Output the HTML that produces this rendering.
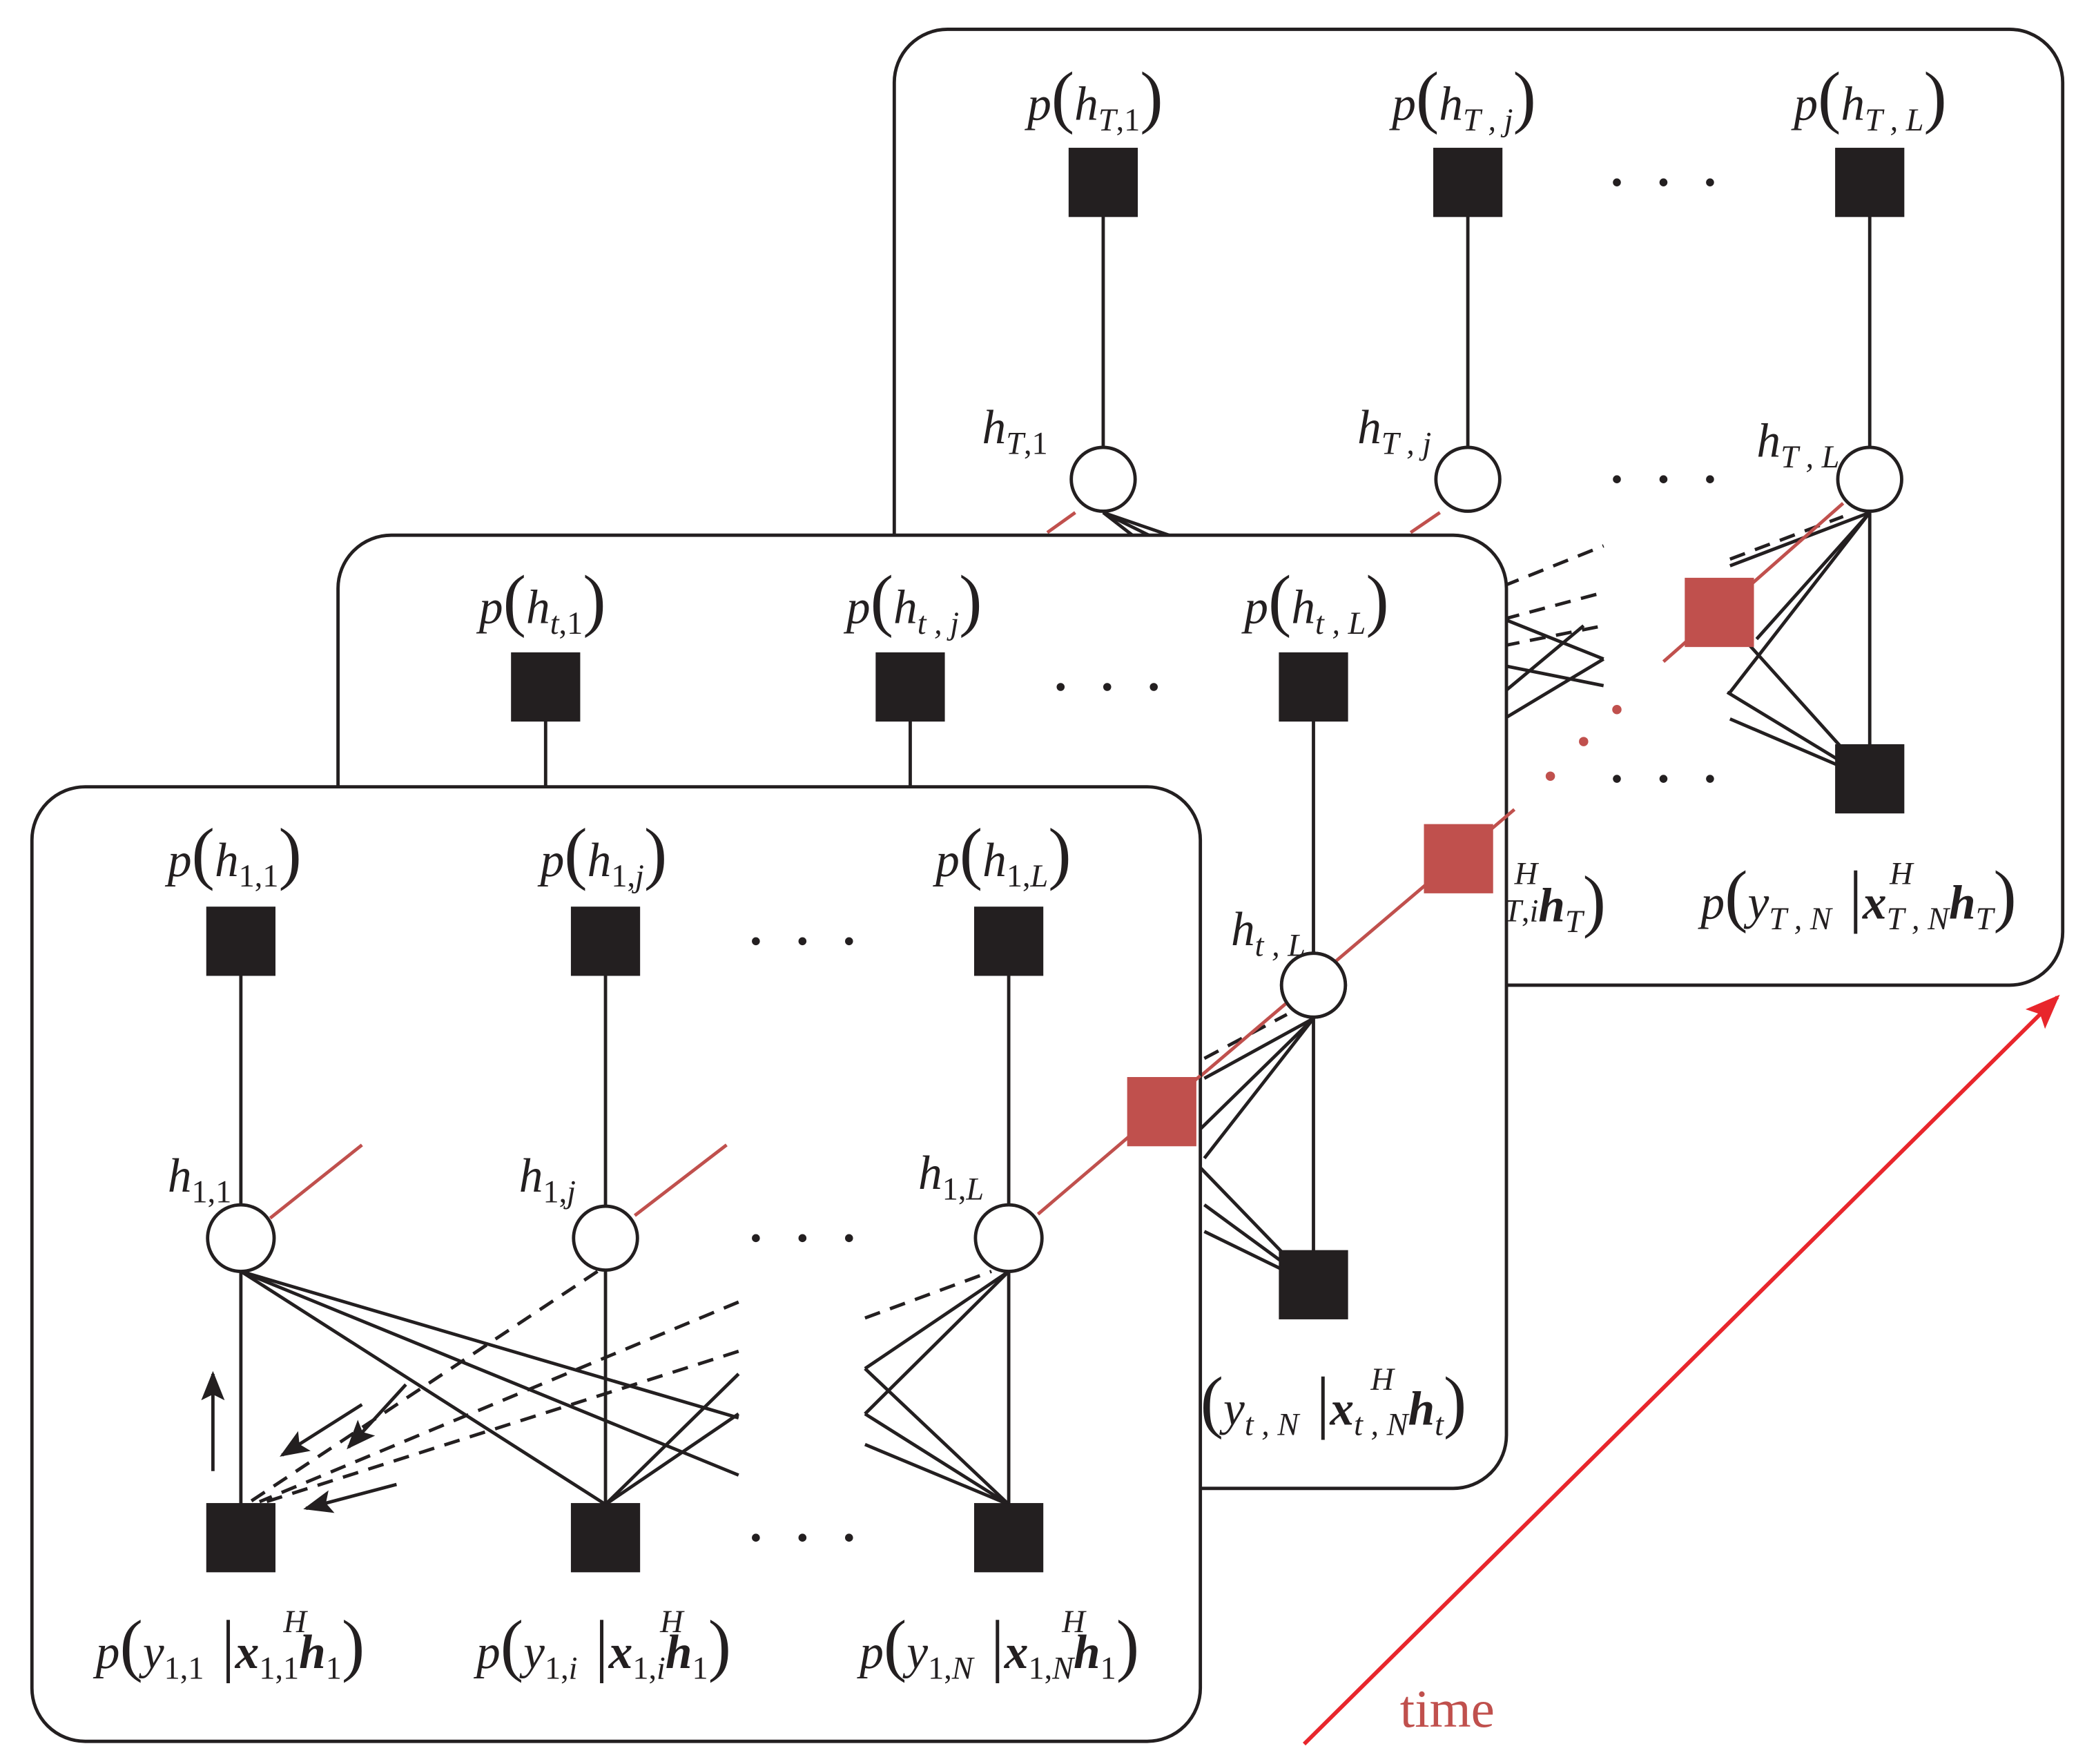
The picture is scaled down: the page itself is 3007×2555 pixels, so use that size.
<!DOCTYPE html>
<html><head><meta charset="utf-8"><style>
html,body{margin:0;padding:0;background:#fff;}
svg{display:block;}
text{font-family:"Liberation Serif",serif;fill:#231f20;}
.i{font-style:italic;}
.b{font-weight:bold;font-style:italic;}
</style></head><body>
<svg width="3007" height="2555" viewBox="0 0 1560 1325" preserveAspectRatio="none" xmlns="http://www.w3.org/2000/svg">
<defs>
<marker id="ah" markerWidth="10" markerHeight="8" refX="9" refY="4" orient="auto" markerUnits="userSpaceOnUse" viewBox="0 0 10 8"><path d="M0,0 L10,4 L0,8 L3,4 z" fill="#231f20"/></marker>
<marker id="ahk" viewBox="0 0 10 8" markerWidth="22" markerHeight="18" refX="9" refY="4" orient="auto" markerUnits="userSpaceOnUse"><path d="M0,0 L10,4 L0,8 L2,4 z" fill="#231f20"/></marker>
<marker id="ahr" viewBox="0 0 10 8" markerWidth="26" markerHeight="22" refX="9" refY="4" orient="auto" markerUnits="userSpaceOnUse"><path d="M0,0 L10,4 L0,8 L2,4 z" fill="#e8262c"/></marker>
</defs>
<g stroke="#231f20" stroke-width="2.5" fill="none">

<!-- ===== Frame T ===== -->
<rect x="672" y="22" width="878" height="718" rx="40" fill="#fff"/>
<line x1="829" y1="137" x2="829" y2="360"/>
<line x1="1103" y1="137" x2="1103" y2="360"/>
<line x1="1405" y1="137" x2="1405" y2="585"/>
<line x1="1405" y1="385" x2="1300" y2="520"/>
<line x1="1405" y1="385" x2="1320" y2="480"/>
<line x1="1405" y1="385" x2="1300" y2="425"/>
<line x1="1405" y1="585" x2="1298" y2="520"/>
<line x1="1405" y1="585" x2="1315" y2="485"/>
<line x1="1405" y1="585" x2="1300" y2="540"/>
<line x1="1300" y1="420" x2="1385" y2="388" stroke-dasharray="12,8"/>
<line x1="829" y1="385" x2="960" y2="450"/>
<line x1="829" y1="385" x2="960" y2="430"/>
<line x1="829" y1="385" x2="900" y2="440"/>
<line x1="1130" y1="440" x2="1205" y2="410" stroke-dasharray="12,8"/>
<line x1="1130" y1="465" x2="1205" y2="445" stroke-dasharray="12,8"/>
<line x1="1130" y1="485" x2="1205" y2="470" stroke-dasharray="12,8"/>
<line x1="1130" y1="465" x2="1205" y2="495"/>
<line x1="1130" y1="500" x2="1205" y2="515"/>
<line x1="1130" y1="540" x2="1205" y2="495"/>
<line x1="1130" y1="520" x2="1190" y2="470"/>
<circle cx="829" cy="360" r="24" fill="#fff"/>
<circle cx="1103" cy="360" r="24" fill="#fff"/>
<circle cx="1405" cy="360" r="24" fill="#fff"/>
<line x1="808" y1="385" x2="787" y2="400" stroke="#c0504d"/>
<line x1="1082" y1="385" x2="1060" y2="400" stroke="#c0504d"/>
<line x1="1385" y1="378" x2="1250" y2="497" stroke="#c0504d"/>
<rect x="1266" y="434" width="52" height="52" fill="#c0504d" stroke="none"/>

<!-- ===== Frame t ===== -->
<rect x="254" y="402" width="878" height="716" rx="40" fill="#fff"/>
<line x1="410" y1="516" x2="410" y2="591"/>
<line x1="684" y1="516" x2="684" y2="591"/>
<line x1="987" y1="516" x2="987" y2="965"/>
<line x1="987" y1="765" x2="900" y2="850"/>
<line x1="987" y1="765" x2="905" y2="870"/>
<line x1="987" y1="765" x2="905" y2="810"/>
<line x1="987" y1="965" x2="900" y2="875"/>
<line x1="987" y1="965" x2="905" y2="905"/>
<line x1="987" y1="965" x2="905" y2="925"/>
<line x1="905" y1="795" x2="967" y2="762" stroke-dasharray="12,8"/>
<circle cx="987" cy="740" r="24" fill="#fff"/>
<line x1="780" y1="912" x2="1138" y2="608" stroke="#c0504d"/>
<rect x="1070" y="619" width="52" height="52" fill="#c0504d" stroke="none"/>
<circle cx="987" cy="740" r="24" fill="#fff"/>

<!-- ===== Frame 1 ===== -->
<rect x="24" y="591" width="878" height="717" rx="40" fill="#fff"/>
<line x1="181" y1="707" x2="181" y2="1155"/>
<line x1="455" y1="707" x2="455" y2="1155"/>
<line x1="758" y1="707" x2="758" y2="1155"/>
<line x1="181" y1="955" x2="455" y2="1130"/>
<line x1="181" y1="955" x2="555" y2="1108"/>
<line x1="181" y1="955" x2="555" y2="1065"/>
<line x1="455" y1="1130" x2="555" y2="1032"/>
<line x1="455" y1="1130" x2="555" y2="1062"/>
<line x1="758" y1="955" x2="650" y2="1028"/>
<line x1="650" y1="1028" x2="758" y2="1130"/>
<line x1="758" y1="955" x2="650" y2="1062"/>
<line x1="650" y1="1062" x2="758" y2="1130"/>
<line x1="650" y1="1085" x2="758" y2="1130"/>
<line x1="650" y1="990" x2="745" y2="955" stroke-dasharray="12,8"/>
<line x1="449" y1="955" x2="185" y2="1130" stroke-dasharray="12,8"/>
<line x1="555" y1="978" x2="195" y2="1128" stroke-dasharray="12,8"/>
<line x1="555" y1="1015" x2="200" y2="1128" stroke-dasharray="12,8"/>
<line x1="160" y1="1105" x2="160" y2="1032" marker-end="url(#ahk)"/>
<line x1="272" y1="1055" x2="212" y2="1093" marker-end="url(#ahk)"/>
<line x1="305" y1="1040" x2="262" y2="1087" marker-end="url(#ahk)"/>
<line x1="298" y1="1115" x2="230" y2="1133" marker-end="url(#ahk)"/>
<circle cx="181" cy="930" r="25" fill="#fff"/>
<circle cx="455" cy="930" r="24" fill="#fff"/>
<circle cx="758" cy="930" r="25" fill="#fff"/>
<line x1="203" y1="915" x2="272" y2="860" stroke="#c0504d"/>
<line x1="477" y1="913" x2="546" y2="860" stroke="#c0504d"/>
<line x1="780" y1="912" x2="902" y2="808" stroke="#c0504d"/>
</g>
<rect x="847" y="809" width="52" height="52" fill="#c0504d"/>

<!-- black squares -->
<g fill="#231f20">
<rect x="803" y="111" width="52" height="52"/><rect x="1077" y="111" width="52" height="52"/><rect x="1379" y="111" width="52" height="52"/>
<rect x="1379" y="559" width="52" height="52"/>
<rect x="384" y="490" width="52" height="52"/><rect x="658" y="490" width="52" height="52"/><rect x="961" y="490" width="52" height="52"/>
<rect x="961" y="939" width="52" height="52"/>
<rect x="155" y="681" width="52" height="52"/><rect x="429" y="681" width="52" height="52"/><rect x="732" y="681" width="52" height="52"/>
<rect x="155" y="1129" width="52" height="52"/><rect x="429" y="1129" width="52" height="52"/><rect x="732" y="1129" width="52" height="52"/>
<!-- dots -->
<g>
<circle cx="1215" cy="137" r="3"/><circle cx="1250" cy="137" r="3"/><circle cx="1285" cy="137" r="3"/>
<circle cx="1215" cy="360" r="3"/><circle cx="1250" cy="360" r="3"/><circle cx="1285" cy="360" r="3"/>
<circle cx="1215" cy="585" r="3"/><circle cx="1250" cy="585" r="3"/><circle cx="1285" cy="585" r="3"/>
<circle cx="797" cy="516" r="3"/><circle cx="832" cy="516" r="3"/><circle cx="867" cy="516" r="3"/>
<circle cx="568" cy="707" r="3"/><circle cx="603" cy="707" r="3"/><circle cx="638" cy="707" r="3"/>
<circle cx="568" cy="930" r="3"/><circle cx="603" cy="930" r="3"/><circle cx="638" cy="930" r="3"/>
<circle cx="568" cy="1155" r="3"/><circle cx="603" cy="1155" r="3"/><circle cx="638" cy="1155" r="3"/>
</g>
<g fill="#c0504d"><circle cx="1165" cy="583" r="3.5"/><circle cx="1190" cy="557" r="3.5"/><circle cx="1215" cy="533" r="3.5"/></g>
</g>

<!-- time arrow -->
<line x1="980" y1="1310" x2="1546" y2="749" stroke="#e8262c" stroke-width="3" marker-end="url(#ahr)"/>
<text x="1052" y="1297" font-size="40" style="fill:#c0504d">time</text>

<!-- labels: frame T -->
<g font-size="36">
<text x="772" y="90"><tspan class="i">p</tspan><tspan font-size="52">(</tspan><tspan class="i">h</tspan><tspan class="i" font-size="24" dy="8">T</tspan><tspan font-size="24">,1</tspan><tspan font-size="52" dy="-8">)</tspan></text>
<text x="1046" y="90"><tspan class="i">p</tspan><tspan font-size="52">(</tspan><tspan class="i">h</tspan><tspan class="i" font-size="24" dy="8">T , j</tspan><tspan font-size="52" dy="-8">)</tspan></text>
<text x="1348" y="90"><tspan class="i">p</tspan><tspan font-size="52">(</tspan><tspan class="i">h</tspan><tspan class="i" font-size="24" dy="8">T , L</tspan><tspan font-size="52" dy="-8">)</tspan></text>
<text x="738" y="333"><tspan class="i">h</tspan><tspan class="i" font-size="24" dy="8">T</tspan><tspan font-size="24">,1</tspan></text>
<text x="1020" y="333"><tspan class="i">h</tspan><tspan class="i" font-size="24" dy="8">T , j</tspan></text>
<text x="1320" y="343"><tspan class="i">h</tspan><tspan class="i" font-size="24" dy="8">T , L</tspan></text>
<text x="1130" y="692"><tspan class="i" font-size="24" dy="0">T</tspan><tspan font-size="24">,</tspan><tspan class="i" font-size="24">i</tspan><tspan class="b" dy="0">h</tspan><tspan class="i" font-size="24" dy="8">T</tspan><tspan font-size="52" dy="-6">)</tspan></text>
<text x="1138" y="664" class="i" font-size="24">H</text>
<text x="1278" y="690"><tspan class="i">p</tspan><tspan font-size="52">(</tspan><tspan class="i">y</tspan><tspan class="i" font-size="24" dy="8">T , N</tspan><tspan font-size="52" dy="-8"> |</tspan><tspan class="b">x</tspan><tspan class="i" font-size="24" dy="8">T , N</tspan><tspan class="b" dy="-8">h</tspan><tspan class="i" font-size="24" dy="8">T</tspan><tspan font-size="52" dy="-8">)</tspan></text>
<text x="1420" y="664" class="i" font-size="24">H</text>

<!-- frame t -->
<text x="360" y="468"><tspan class="i">p</tspan><tspan font-size="52">(</tspan><tspan class="i">h</tspan><tspan class="i" font-size="24" dy="8">t</tspan><tspan font-size="24">,1</tspan><tspan font-size="52" dy="-8">)</tspan></text>
<text x="636" y="468"><tspan class="i">p</tspan><tspan font-size="52">(</tspan><tspan class="i">h</tspan><tspan class="i" font-size="24" dy="8">t , j</tspan><tspan font-size="52" dy="-8">)</tspan></text>
<text x="935" y="468"><tspan class="i">p</tspan><tspan font-size="52">(</tspan><tspan class="i">h</tspan><tspan class="i" font-size="24" dy="8">t , L</tspan><tspan font-size="52" dy="-8">)</tspan></text>
<text x="925" y="710"><tspan class="i">h</tspan><tspan class="i" font-size="24" dy="8">t , L</tspan></text>
<text x="902" y="1070"><tspan font-size="52">(</tspan><tspan class="i">y</tspan><tspan class="i" font-size="24" dy="8">t , N</tspan><tspan font-size="52" dy="-8"> |</tspan><tspan class="b">x</tspan><tspan class="i" font-size="24" dy="8">t , N</tspan><tspan class="b" dy="-8">h</tspan><tspan class="i" font-size="24" dy="8">t</tspan><tspan font-size="52" dy="-8">)</tspan></text>
<text x="1030" y="1044" class="i" font-size="24">H</text>

<!-- frame 1 -->
<text x="126" y="658"><tspan class="i">p</tspan><tspan font-size="52">(</tspan><tspan class="i">h</tspan><tspan font-size="24" dy="8">1,1</tspan><tspan font-size="52" dy="-8">)</tspan></text>
<text x="406" y="658"><tspan class="i">p</tspan><tspan font-size="52">(</tspan><tspan class="i">h</tspan><tspan font-size="24" dy="8">1,</tspan><tspan class="i" font-size="24">j</tspan><tspan font-size="52" dy="-8">)</tspan></text>
<text x="703" y="658"><tspan class="i">p</tspan><tspan font-size="52">(</tspan><tspan class="i">h</tspan><tspan font-size="24" dy="8">1,</tspan><tspan class="i" font-size="24">L</tspan><tspan font-size="52" dy="-8">)</tspan></text>
<text x="126" y="895"><tspan class="i">h</tspan><tspan font-size="24" dy="8">1,1</tspan></text>
<text x="390" y="895"><tspan class="i">h</tspan><tspan font-size="24" dy="8">1,</tspan><tspan class="i" font-size="24">j</tspan></text>
<text x="690" y="893"><tspan class="i">h</tspan><tspan font-size="24" dy="8">1,</tspan><tspan class="i" font-size="24">L</tspan></text>
<text x="72" y="1253"><tspan class="i">p</tspan><tspan font-size="52">(</tspan><tspan class="i">y</tspan><tspan font-size="24" dy="8">1,1</tspan><tspan font-size="52" dy="-8"> |</tspan><tspan class="b">x</tspan><tspan font-size="24" dy="8">1,1</tspan><tspan class="b" dy="-8">h</tspan><tspan font-size="24" dy="8">1</tspan><tspan font-size="52" dy="-8">)</tspan></text>
<text x="213" y="1226" class="i" font-size="24">H</text>
<text x="358" y="1253"><tspan class="i">p</tspan><tspan font-size="52">(</tspan><tspan class="i">y</tspan><tspan font-size="24" dy="8">1,</tspan><tspan class="i" font-size="24">i</tspan><tspan font-size="52" dy="-8"> |</tspan><tspan class="b">x</tspan><tspan font-size="24" dy="8">1,</tspan><tspan class="i" font-size="24">i</tspan><tspan class="b" dy="-8">h</tspan><tspan font-size="24" dy="8">1</tspan><tspan font-size="52" dy="-8">)</tspan></text>
<text x="496" y="1226" class="i" font-size="24">H</text>
<text x="646" y="1253"><tspan class="i">p</tspan><tspan font-size="52">(</tspan><tspan class="i">y</tspan><tspan font-size="24" dy="8">1,</tspan><tspan class="i" font-size="24">N</tspan><tspan font-size="52" dy="-8"> |</tspan><tspan class="b">x</tspan><tspan font-size="24" dy="8">1,</tspan><tspan class="i" font-size="24">N</tspan><tspan class="b" dy="-8">h</tspan><tspan font-size="24" dy="8">1</tspan><tspan font-size="52" dy="-8">)</tspan></text>
<text x="798" y="1226" class="i" font-size="24">H</text>
</g>
</svg>
</body></html>
